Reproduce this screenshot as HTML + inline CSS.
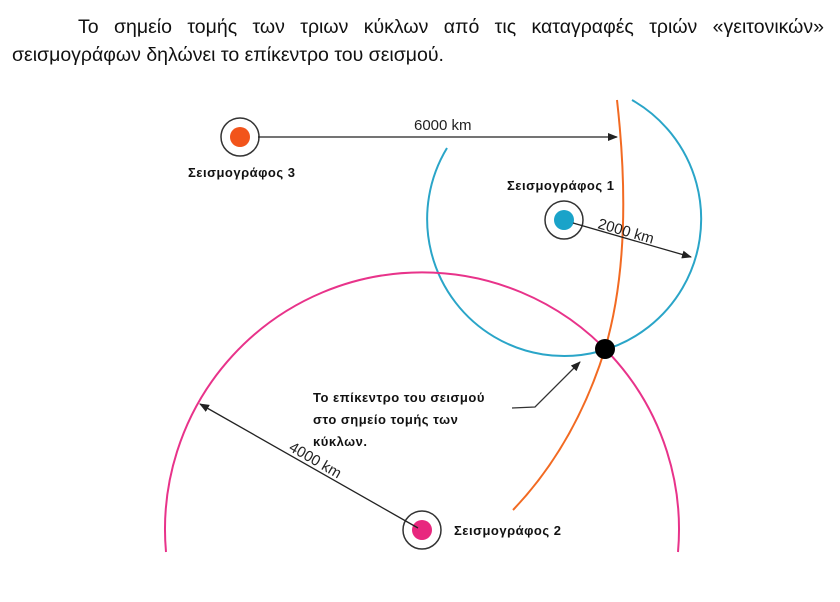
<!DOCTYPE html>
<html><head><meta charset="utf-8"><style>
body{margin:0;width:840px;height:602px;background:#fff;overflow:hidden;position:relative;font-family:"Liberation Sans",sans-serif}
.l{position:absolute;font-size:19.5px;color:#111;line-height:28px;white-space:nowrap}
.l1{left:78px;top:13px;width:746px;text-align:justify;text-align-last:justify}
.l2{left:12px;top:41px}
svg{position:absolute;left:0;top:0}
</style></head><body>
<div class="l l1">Το σημείο τομής των τριων κύκλων από τις καταγραφές τριών «γειτονικών»</div>
<div class="l l2">σεισμογράφων δηλώνει το επίκεντρο του σεισμού.</div>
<svg width="840" height="602" viewBox="0 0 840 602">
<defs><marker id="a" markerWidth="10" markerHeight="8" refX="9" refY="4" orient="auto" markerUnits="userSpaceOnUse"><path d="M0,0 L10,4 L0,8z" fill="#222"/></marker></defs>
<path d="M447,148 A137,137 0 1 0 632,100" fill="none" stroke="#2aa5c8" stroke-width="2"/>
<path d="M166,552 A257,257 0 1 1 678,552" fill="none" stroke="#e8338a" stroke-width="2"/>
<path d="M617,100 Q634,250 605,349 Q575,445 513,510" fill="none" stroke="#f26a22" stroke-width="2"/>
<circle cx="240" cy="137" r="19" fill="#fff" stroke="#333" stroke-width="1.5"/>
<circle cx="240" cy="137" r="10" fill="#f2541b"/>
<line x1="258" y1="137" x2="617" y2="137" stroke="#222" stroke-width="1.3" marker-end="url(#a)"/>
<text x="414" y="130" font-size="15" fill="#222">6000 km</text>
<text x="188" y="177" font-size="13" font-weight="bold" fill="#111" letter-spacing="0.5">Σεισμογράφος 3</text>
<rect x="505" y="176" width="115" height="18" fill="#fff"/>
<text x="507" y="190" font-size="13" font-weight="bold" fill="#111" letter-spacing="0.5">Σεισμογράφος 1</text>
<circle cx="564" cy="220" r="19" fill="#fff" stroke="#333" stroke-width="1.5"/>
<circle cx="564" cy="220" r="10" fill="#1aa3c9"/>
<line x1="573" y1="223" x2="691" y2="257" stroke="#222" stroke-width="1.3" marker-end="url(#a)"/>
<text x="0" y="0" font-size="15" fill="#222" transform="translate(597,228) rotate(16)">2000 km</text>
<circle cx="422" cy="530" r="19" fill="#fff" stroke="#333" stroke-width="1.5"/>
<circle cx="422" cy="530" r="10" fill="#e8277e"/>
<line x1="418" y1="528" x2="200" y2="404" stroke="#222" stroke-width="1.3" marker-end="url(#a)"/>
<text x="0" y="0" font-size="15" fill="#222" transform="translate(288,450) rotate(30)">4000 km</text>
<text x="454" y="535" font-size="13" font-weight="bold" fill="#111" letter-spacing="0.5">Σεισμογράφος 2</text>
<circle cx="605" cy="349" r="10" fill="#000"/>
<polyline points="512,408 535,407 580,362" fill="none" stroke="#333" stroke-width="1.3" marker-end="url(#a)"/>
<text font-size="13" font-weight="bold" fill="#111" letter-spacing="0.5"><tspan x="313" y="402">Το επίκεντρο του σεισμού</tspan><tspan x="313" y="424">στο σημείο τομής των</tspan><tspan x="313" y="446">κύκλων.</tspan></text>
</svg>
</body></html>
